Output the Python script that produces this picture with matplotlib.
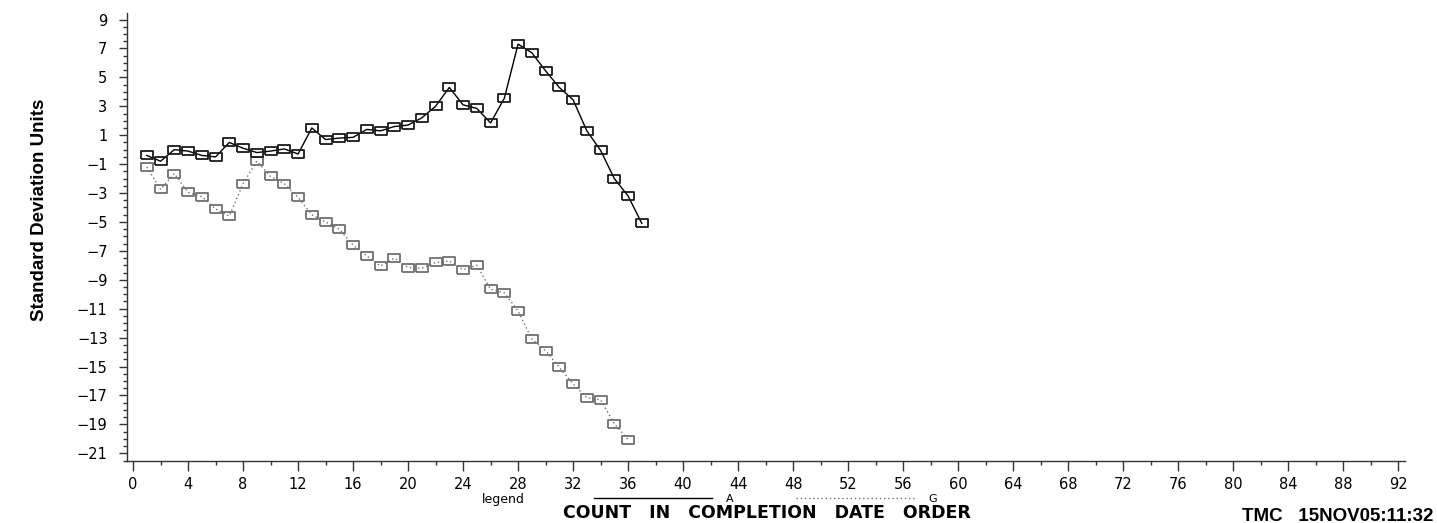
import matplotlib
matplotlib.use("Agg")
import matplotlib.pyplot as plt
from matplotlib.lines import Line2D
from matplotlib.ticker import MultipleLocator, FixedLocator, FuncFormatter

# ---- data ----
count_a = list(range(1, 38))
series_a = [-0.4, -0.8, 0.0, -0.1, -0.4, -0.5, 0.5, 0.1, -0.2, -0.1,
            0.05, -0.3, 1.5, 0.7, 0.8, 0.85, 1.4, 1.3, 1.6, 1.7,
            2.2, 3.0, 4.3, 3.1, 2.85, 1.85, 3.55, 7.3, 6.7, 5.45,
            4.3, 3.45, 1.3, -0.05, -2.0, -3.2, -5.1]

count_g = list(range(1, 37))
series_g = [-1.2, -2.75, -1.65, -2.95, -3.25, -4.1, -4.6, -2.35, -0.8, -1.85,
            -2.35, -3.3, -4.5, -5.0, -5.5, -6.6, -7.35, -8.05, -7.5, -8.15,
            -8.2, -7.8, -7.7, -8.3, -8.0, -9.65, -9.9, -11.15, -13.1, -13.9,
            -15.05, -16.2, -17.15, -17.3, -18.95, -20.05]

y_ticks = list(range(9, -22, -2))
x_ticks = list(range(0, 93, 4))
legend_labels = ["A", "G"]

# ---- figure ----
W, H = 1437, 523
fig = plt.figure(figsize=(W / 100, H / 100), dpi=100)
L, R, T, B = 127, 1405, 13, 461
ax = fig.add_axes([L / W, 1 - B / H, (R - L) / W, (B - T) / H])

rect = [(-1.45, -1), (1.45, -1), (1.45, 1), (-1.45, 1), (-1.45, -1)]

ax.plot(count_a, series_a, color="black", lw=1.0, ls="-",
        marker=rect, ms=8, mfc="none", mec="#1a1a1a", mew=1.3, zorder=3)
ax.plot(count_g, series_g, color="#707070", lw=1.0, ls=(0, (1, 2)),
        marker=rect, ms=8, mfc="none", mec="#707070", mew=1.3, zorder=2)

ax.set_xlim(-0.44, 92.5)
ax.set_ylim(-21.53, 9.45)

for s in ["top", "right"]:
    ax.spines[s].set_visible(False)
for s in ["left", "bottom"]:
    ax.spines[s].set_color("#333333")
    ax.spines[s].set_linewidth(1.0)

ax.xaxis.set_major_locator(FixedLocator(x_ticks))
ax.xaxis.set_minor_locator(MultipleLocator(2))
ax.yaxis.set_major_locator(FixedLocator(y_ticks))
ax.yaxis.set_minor_locator(MultipleLocator(0.5))
ax.yaxis.set_major_formatter(FuncFormatter(lambda v, p: f"{int(round(v))}".replace("-", "\u2212")))

ax.tick_params(axis="x", which="major", direction="out", length=7, width=1,
               color="#333333", labelsize=10.5, pad=4.5)
ax.tick_params(axis="x", which="minor", direction="out", length=3, width=1, color="#333333")
ax.tick_params(axis="y", which="major", direction="out", length=6, width=1,
               color="#333333", labelsize=10.5, pad=8)
ax.tick_params(axis="y", which="minor", direction="out", length=3, width=1, color="#333333")

narrow = ["Liberation Sans", "DejaVu Sans"]

fig.text(40 / W, 1 - 210 / H, "Standard Deviation Units", rotation=90,
         ha="center", va="center", fontsize=13.5, fontweight="bold", family=narrow)

fig.text(767 / W, 1 - 522.5 / H, "COUNT   IN   COMPLETION   DATE   ORDER",
         ha="center", va="bottom", fontsize=12.5, fontweight="bold")

fig.text(1433 / W, 1 - 521 / H, "TMC   15NOV05:11:32",
         ha="right", va="baseline", fontsize=13.5, fontweight="bold", family=narrow)

fig.text(503 / W, 1 - 499 / H, "legend", ha="center", va="center", fontsize=9)

handles = [Line2D([], [], color="black", lw=1.0, ls="-"),
           Line2D([], [], color="#707070", lw=1.0, ls=(0, (1, 2)))]
fig.legend(handles, legend_labels, loc="center left",
           bbox_to_anchor=(594 / W, 1 - 498.5 / H), ncol=2, frameon=False,
           fontsize=8, handlelength=10.6, handletextpad=1.3,
           columnspacing=5.6, borderpad=0, borderaxespad=0)

fig.savefig("out.png", dpi=100)
